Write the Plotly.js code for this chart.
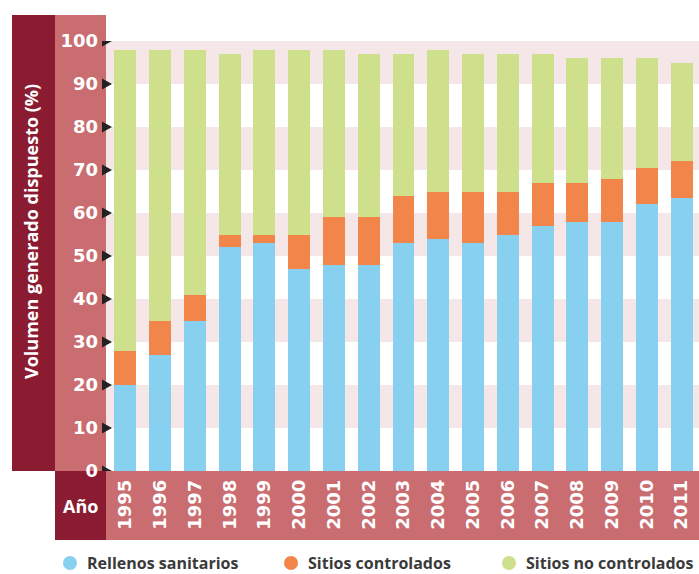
<!DOCTYPE html>
<html>
<head>
<meta charset="utf-8">
<script src="https://cdn.plot.ly/plotly-3.0.1.min.js"></script>
<style>
html,body{margin:0;padding:0;background:#fff;}
#chart{width:699px;height:574px;}
</style>
</head>
<body>
<div id="chart"></div>
<script>
// ---- data ----
const years = ["1995","1996","1997","1998","1999","2000","2001","2002","2003","2004","2005","2006","2007","2008","2009","2010","2011"];
const rellenos = [20, 27, 35, 52, 53, 47, 48, 48, 53, 54, 53, 55, 57, 58, 58, 62, 63.5];
const controlados = [8, 8, 6, 3, 2, 8, 11, 11, 11, 11, 12, 10, 10, 9, 10, 8.5, 8.5];
const noControlados = [70, 63, 57, 42, 43, 43, 39, 38, 33, 33, 32, 32, 30, 29, 28, 25.5, 23];
const seriesNames = ["Rellenos sanitarios", "Sitios controlados", "Sitios no controlados"];
const yTicks = [0, 10, 20, 30, 40, 50, 60, 70, 80, 90, 100];
const bandPairs = [[10, 20], [30, 40], [50, 60], [70, 80], [90, 100]];
const yTitle = "Volumen generado dispuesto (%)";
const xTitle = "Año";

// ---- style ----
const colors = ["#87d0f0", "#f2864a", "#cfe08c"];
const darkRed = "#8b1b30";
const lightRed = "#c96d71";
const bandColor = "#f5e6e8";
const W = 699, H = 574;
const mL = 108, mR = 0, mT = 41, mB = 103;
const plotW = W - mL - mR, plotH = H - mT - mB;
const px = p => (p - mL) / plotW;          // pixel x -> paper x
const py = p => (H - mB - p) / plotH;      // pixel y -> paper y

const yNumFont = {family: "DejaVu Sans", size: 18, color: "#ffffff", weight: 700};
const xNumFont = {family: "DejaVu Sans", size: 18, color: "#ffffff", weight: 700};

const seriesData = [rellenos, controlados, noControlados];
const traces = seriesData.map((vals, i) => ({
  type: "bar",
  x: years,
  y: vals,
  name: seriesNames[i],
  marker: {color: colors[i], line: {width: 0}},
  showlegend: false,
  hoverinfo: "skip"
}));

const shapes = [];
// left dark column
shapes.push({type: "rect", xref: "paper", yref: "paper", x0: px(12), x1: px(55), y0: 0, y1: py(15),
  fillcolor: darkRed, line: {width: 0}, layer: "below"});
// light tick-label column
shapes.push({type: "rect", xref: "paper", yref: "paper", x0: px(55), x1: px(106), y0: 0, y1: py(15),
  fillcolor: lightRed, line: {width: 0}, layer: "below"});
// Año box
shapes.push({type: "rect", xref: "paper", yref: "paper", x0: px(55), x1: px(106), y0: py(540), y1: 0,
  fillcolor: darkRed, line: {width: 0}, layer: "below"});
// year strip
shapes.push({type: "rect", xref: "paper", yref: "paper", x0: px(106), x1: 1, y0: py(540), y1: 0,
  fillcolor: lightRed, line: {width: 0}, layer: "below"});
// horizontal bands
bandPairs.forEach(([a, b]) => shapes.push({type: "rect", xref: "paper", yref: "y", x0: px(106), x1: 1, y0: a, y1: b,
  fillcolor: bandColor, line: {width: 0}, layer: "below"}));
// tick triangles
const triHalfY = 5.5 / plotH * 100;
yTicks.forEach(v => shapes.push({type: "path", xref: "paper", yref: "y",
  path: `M ${px(102)},${v - triHalfY} L ${px(112)},${v} L ${px(102)},${v + triHalfY} Z`,
  fillcolor: "#222222", line: {width: 0}, layer: "above"}));

// legend
const legendCircleX = [70, 291, 509];
const annotations = [];
seriesNames.forEach((n, i) => {
  shapes.push({type: "circle", xref: "paper", yref: "paper", xsizemode: "pixel", ysizemode: "pixel",
    xanchor: px(legendCircleX[i]), yanchor: py(563), x0: -7, x1: 7, y0: -7, y1: 7,
    fillcolor: colors[i], line: {width: 0}});
  annotations.push({xref: "paper", yref: "paper", x: px(legendCircleX[i] + 15), y: py(563),
    xanchor: "left", yanchor: "middle",
    text: n, showarrow: false, font: {family: "Open Sans", size: 16, color: "#3a3a3a", weight: 700}});
});
annotations.push({xref: "paper", yref: "paper", x: px(31), y: py(232), xanchor: "center", yanchor: "middle",
  textangle: -90, text: yTitle, showarrow: false,
  font: {family: "Open Sans", size: 18, color: "#ffffff", weight: 700}});
annotations.push({xref: "paper", yref: "paper", x: px(80), y: py(506), xanchor: "center", yanchor: "middle",
  text: xTitle, showarrow: false, font: {family: "Open Sans", size: 18, color: "#ffffff", weight: 700}});

const layout = {
  width: W, height: H,
  margin: {l: mL, r: mR, t: mT, b: mB, pad: 0},
  paper_bgcolor: "#ffffff",
  plot_bgcolor: "rgba(0,0,0,0)",
  barmode: "stack",
  bargap: 0.37,
  showlegend: false,
  xaxis: {type: "category", tickangle: -90, tickfont: xNumFont, ticks: "", showgrid: false,
    zeroline: false, showline: false, ticklabelstandoff: 4, fixedrange: true},
  yaxis: {range: [0, 100], tickvals: yTicks, tickfont: yNumFont, ticks: "", showgrid: false,
    zeroline: false, showline: false, ticklabelstandoff: 9, fixedrange: true},
  shapes: shapes,
  annotations: annotations
};

Plotly.newPlot("chart", traces, layout, {staticPlot: true, displayModeBar: false});
</script>
</body>
</html>
